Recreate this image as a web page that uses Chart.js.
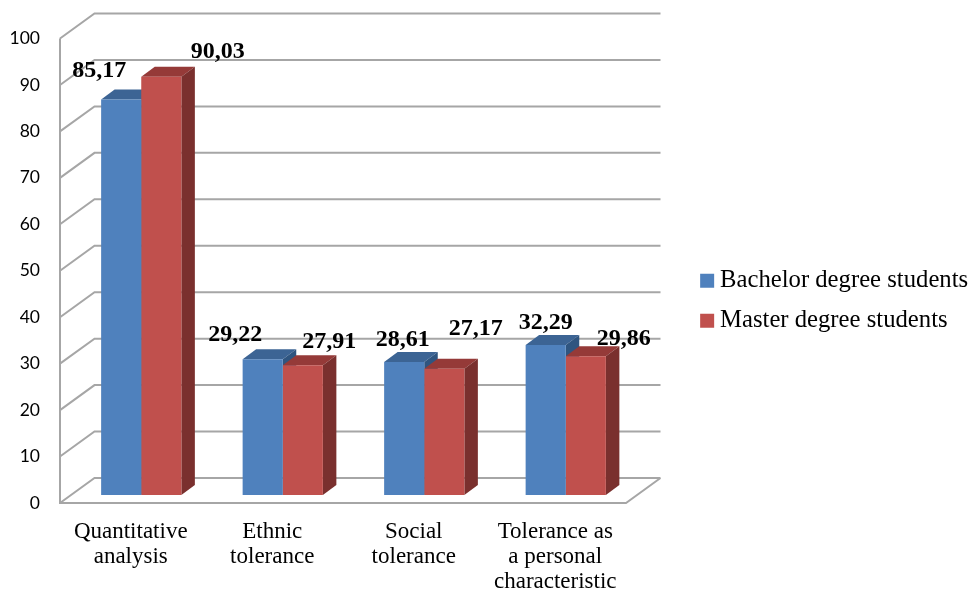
<!DOCTYPE html>
<html lang="en">
<head>
  <meta charset="UTF-8">
  <title>Tolerance chart</title>
  <script src="https://cdn.jsdelivr.net/npm/chart.js"></script>
  <style>
    body { margin: 0; background: #fff; }
    canvas { display: block; }
  </style>
</head>
<body>
  <canvas id="tolChart" width="975" height="593"></canvas>

  <script>
    const categories = [
      ['Quantitative', 'analysis'],
      ['Ethnic', 'tolerance'],
      ['Social', 'tolerance'],
      ['Tolerance as', 'a personal', 'characteristic']
    ];
    const bachelor = [85.17, 29.22, 28.61, 32.29];
    const master = [90.03, 27.91, 27.17, 29.86];
    const bachelorLabels = ['85,17', '29,22', '28,61', '32,29'];
    const masterLabels = ['90,03', '27,91', '27,17', '29,86'];

    // label offsets from the top of each bar, they are placed by hand in the original
    const bachelorShift = [[-11.5, -37], [-17, -32], [9, -30], [10.5, -30]];
    const masterShift = [[67, -33], [37, -32], [42, -48], [48.5, -26]];

    // fake 3D
    const wallDx = 34.5, wallDy = -25;
    const barDx = 10.5, barDy = -8;
    const depthX = 13.5, depthY = -10;
    const gridColor = '#a6a6a6';

    function face(ctx, pts, color) {
      ctx.fillStyle = color;
      ctx.beginPath();
      pts.forEach((p, i) => i ? ctx.lineTo(p[0], p[1]) : ctx.moveTo(p[0], p[1]));
      ctx.closePath();
      ctx.fill();
    }

    const walls = {
      id: 'walls',
      // layout caps the legend width and clips to it, so its box is set here
      afterLayout(chart) {
        const legend = chart.legend;
        legend.left = 691.35;
        legend.right = 975;
        legend.width = legend.right - legend.left;
        legend.bottom = 563;
        legend.height = legend.bottom - legend.top;
      },
      beforeDatasetsDraw(chart) {
        const { ctx, chartArea: a, scales: { y } } = chart;
        ctx.save();
        ctx.strokeStyle = gridColor;
        ctx.lineWidth = 2;
        ctx.beginPath();
        y.ticks.forEach(t => {
          const py = y.getPixelForValue(t.value);
          ctx.moveTo(a.left, py);
          ctx.lineTo(a.left + wallDx, py + wallDy);
          ctx.lineTo(a.right + wallDx, py + wallDy);
        });
        ctx.moveTo(a.left, a.top);
        ctx.lineTo(a.left, a.bottom);
        ctx.lineTo(a.right, a.bottom);
        ctx.lineTo(a.right + wallDx, a.bottom + wallDy);
        ctx.stroke();
        ctx.restore();

        // bar tops and sides go under the bar fronts
        ctx.save();
        ctx.translate(barDx, barDy);
        chart.data.datasets.forEach((ds, i) => {
          chart.getDatasetMeta(i).data.forEach(el => {
            const l = el.x - el.width / 2, r = el.x + el.width / 2;
            face(ctx, [[l, el.y], [r, el.y], [r + depthX, el.y + depthY], [l + depthX, el.y + depthY]], ds.topColor);
            face(ctx, [[r, el.y], [r + depthX, el.y + depthY], [r + depthX, el.base + depthY], [r, el.base]], ds.sideColor);
          });
        });
        // stays translated for the fronts, restored in afterDatasetsDraw
      },
      afterDatasetsDraw(chart) {
        const ctx = chart.ctx;
        ctx.restore();
        ctx.save();
        ctx.fillStyle = '#000';
        ctx.font = 'bold 24px "Liberation Serif"';
        ctx.textAlign = 'center';
        ctx.textBaseline = 'middle';
        chart.data.datasets.forEach((ds, i) => {
          chart.getDatasetMeta(i).data.forEach((el, j) => {
            ctx.fillText(ds.valueLabels[j], el.x + ds.labelShift[j][0], el.y + ds.labelShift[j][1]);
          });
        });
        ctx.restore();
      }
    };

    new Chart(document.getElementById('tolChart'), {
      type: 'bar',
      data: {
        labels: categories,
        datasets: [
          { label: 'Bachelor degree students', data: bachelor, backgroundColor: '#4f81bd',
            topColor: '#3c6494', sideColor: '#2f5580', valueLabels: bachelorLabels, labelShift: bachelorShift },
          { label: 'Master degree students', data: master, backgroundColor: '#c0504d',
            topColor: '#953a38', sideColor: '#7a302e', valueLabels: masterLabels, labelShift: masterShift }
        ]
      },
      options: {
        responsive: false,
        animation: false,
        layout: { padding: { top: 38.5 } },
        datasets: { bar: { categoryPercentage: 0.567, barPercentage: 1 } },
        scales: {
          x: {
            grid: { display: false },
            border: { display: false },
            ticks: {
              color: '#000',
              autoSkip: false,
              maxRotation: 0,
              padding: 8,
              font: { family: '"Liberation Serif"', size: 23, lineHeight: 1.1 }
            },
            afterFit(axis) { axis.height = 90; }
          },
          y: {
            min: 0,
            max: 100,
            grid: { display: false },
            border: { display: false },
            ticks: {
              stepSize: 10,
              color: '#000',
              padding: 12,
              font: { family: 'Lato', size: 17.5 }
            },
            afterFit(axis) { axis.width = 60; }
          },
          // empty axis, keeps the plot away from the legend
          spacer: {
            type: 'linear',
            axis: 'y',
            position: 'right',
            grid: { display: false },
            border: { display: false },
            ticks: { display: false },
            afterFit(axis) { axis.width = 249; }
          }
        },
        plugins: {
          tooltip: { enabled: false },
          legend: {
            position: 'right',
            maxWidth: 100,
            labels: {
              color: '#000',
              boxWidth: 1,
              boxHeight: 1,
              padding: 15.3,
              font: { family: '"Liberation Serif"', size: 24.7 },
              generateLabels(chart) {
                return Chart.defaults.plugins.legend.labels.generateLabels(chart).map(item => {
                  item.strokeStyle = item.fillStyle;
                  item.lineWidth = 13;
                  return item;
                });
              }
            }
          }
        }
      },
      plugins: [walls]
    });
  </script>
</body>
</html>
